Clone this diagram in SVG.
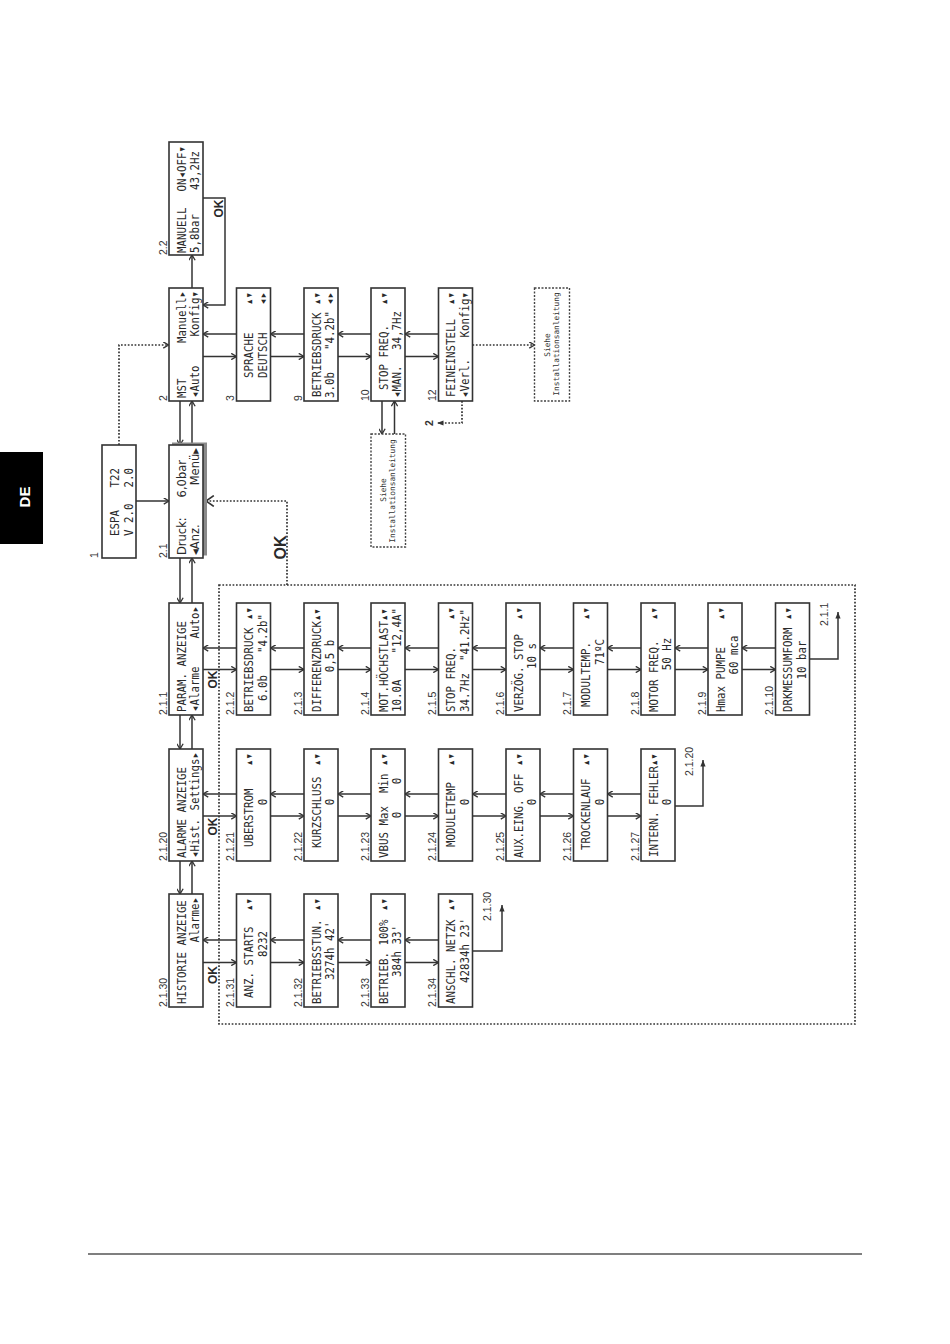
<svg xmlns="http://www.w3.org/2000/svg" width="950" height="1344" viewBox="0 0 950 1344">
<style>
.box{fill:#fff;stroke:#333;stroke-width:1.6}
.sb{fill:#fff;stroke:#444;stroke-width:1.4;stroke-dasharray:2 1.5}
.t{font-family:"DejaVu Sans Mono","Liberation Mono",monospace;font-size:13px;fill:#2a2a2a}
.ts{font-family:"DejaVu Sans","Liberation Sans",sans-serif;font-size:11.5px;fill:#2a2a2a}
.sm{font-family:"DejaVu Sans Mono","Liberation Mono",monospace;font-size:7.8px;fill:#333}
.lb{font-family:"Liberation Sans",Arial,sans-serif;font-size:10.5px;fill:#333}
.ok{font-family:"Liberation Sans",Arial,sans-serif;font-weight:bold;font-size:12px;fill:#2a2a2a;text-anchor:middle}
.e{text-anchor:end}.m{text-anchor:middle}
.c{fill:none;stroke:#333;stroke-width:1.5}
.d{fill:none;stroke:#333;stroke-width:1.7;stroke-dasharray:1.7 1.7}
</style>
<defs>
<marker id="ao" viewBox="0 0 10 10" refX="9.5" refY="5" markerWidth="7" markerHeight="7" orient="auto" markerUnits="userSpaceOnUse"><path d="M2,0.5 L9.5,5 L2,9.5" fill="none" stroke="#333" stroke-width="1.9"/></marker>
<marker id="ab" viewBox="0 0 10 10" refX="9.5" refY="5" markerWidth="12" markerHeight="12" orient="auto" markerUnits="userSpaceOnUse"><path d="M3,0.5 L9.5,5 L3,9.5" fill="none" stroke="#333" stroke-width="1.4"/></marker>
<marker id="af" viewBox="0 0 10 10" refX="10" refY="5" markerWidth="6.5" markerHeight="6.5" orient="auto" markerUnits="userSpaceOnUse"><path d="M0,1 L10,5 L0,9z" fill="#333"/></marker>
</defs>
<rect width="950" height="1344" fill="#fff"/>

<g id="tab">
<rect x="0" y="452" width="43" height="92" fill="#000"/>
<text transform="translate(29.5,497) rotate(-90)" text-anchor="middle" font-family="Liberation Sans,Arial,sans-serif" font-weight="bold" font-size="15" fill="#fff">DE</text>
</g>
<path d="M88,1254 H862" stroke="#555" stroke-width="1.5"/>

<rect id="frame" x="219" y="585" width="636" height="439" class="d"/>

<g id="connectors">
<path class="c" d="M180,401 V445" marker-end="url(#ao)"/>
<path class="c" d="M192,445 V401" marker-end="url(#ao)"/>
<path class="c" d="M180,558 V603" marker-end="url(#ao)"/>
<path class="c" d="M192,603 V558" marker-end="url(#ao)"/>
<path class="c" d="M180,715 V749" marker-end="url(#ao)"/>
<path class="c" d="M192,749 V715" marker-end="url(#ao)"/>
<path class="c" d="M180,861 V894" marker-end="url(#ao)"/>
<path class="c" d="M192,894 V861" marker-end="url(#ao)"/>
<path class="c" d="M192,288 V255" marker-end="url(#ao)"/>
<path class="c" d="M203,198 H225 V305 H203" marker-end="url(#ao)"/>
<path class="c" d="M136,501 H169" marker-end="url(#ao)"/>
<path class="c" d="M236.5,334 H203" marker-end="url(#ao)"/><path class="c" d="M203,356.5 H236.5" marker-end="url(#ao)"/>
<path class="c" d="M304,334 H270.5" marker-end="url(#ao)"/><path class="c" d="M270.5,356.5 H304" marker-end="url(#ao)"/>
<path class="c" d="M371,334 H338" marker-end="url(#ao)"/><path class="c" d="M338,356.5 H371" marker-end="url(#ao)"/>
<path class="c" d="M438.5,334 H405" marker-end="url(#ao)"/><path class="c" d="M405,356.5 H438.5" marker-end="url(#ao)"/>
<path class="c" d="M382,401 V434" marker-end="url(#ao)"/><path class="c" d="M394.5,436 V401" marker-end="url(#ao)"/>
<path class="c" d="M236.5,648 H203" marker-end="url(#ao)"/><path class="c" d="M203,669.5 H236.5" marker-end="url(#ao)"/>
<path class="c" d="M304,648 H270.5" marker-end="url(#ao)"/><path class="c" d="M270.5,669.5 H304" marker-end="url(#ao)"/>
<path class="c" d="M371,648 H338" marker-end="url(#ao)"/><path class="c" d="M338,669.5 H371" marker-end="url(#ao)"/>
<path class="c" d="M438.5,648 H405" marker-end="url(#ao)"/><path class="c" d="M405,669.5 H438.5" marker-end="url(#ao)"/>
<path class="c" d="M506,648 H472.5" marker-end="url(#ao)"/><path class="c" d="M472.5,669.5 H506" marker-end="url(#ao)"/>
<path class="c" d="M573.5,648 H540" marker-end="url(#ao)"/><path class="c" d="M540,669.5 H573.5" marker-end="url(#ao)"/>
<path class="c" d="M641,648 H607.5" marker-end="url(#ao)"/><path class="c" d="M607.5,669.5 H641" marker-end="url(#ao)"/>
<path class="c" d="M708,648 H675" marker-end="url(#ao)"/><path class="c" d="M675,669.5 H708" marker-end="url(#ao)"/>
<path class="c" d="M775.5,648 H742" marker-end="url(#ao)"/><path class="c" d="M742,669.5 H775.5" marker-end="url(#ao)"/>
<path class="c" d="M809.5,659 H838 V612" marker-end="url(#af)"/>
<path class="c" d="M236.5,794 H203" marker-end="url(#ao)"/><path class="c" d="M203,816 H236.5" marker-end="url(#ao)"/>
<path class="c" d="M304,794 H270.5" marker-end="url(#ao)"/><path class="c" d="M270.5,816 H304" marker-end="url(#ao)"/>
<path class="c" d="M371,794 H338" marker-end="url(#ao)"/><path class="c" d="M338,816 H371" marker-end="url(#ao)"/>
<path class="c" d="M438.5,794 H405" marker-end="url(#ao)"/><path class="c" d="M405,816 H438.5" marker-end="url(#ao)"/>
<path class="c" d="M506,794 H472.5" marker-end="url(#ao)"/><path class="c" d="M472.5,816 H506" marker-end="url(#ao)"/>
<path class="c" d="M573.5,794 H540" marker-end="url(#ao)"/><path class="c" d="M540,816 H573.5" marker-end="url(#ao)"/>
<path class="c" d="M641,794 H607.5" marker-end="url(#ao)"/><path class="c" d="M607.5,816 H641" marker-end="url(#ao)"/>
<path class="c" d="M675,806 H703 V760" marker-end="url(#af)"/>
<path class="c" d="M236.5,940 H203" marker-end="url(#ao)"/><path class="c" d="M203,962.5 H236.5" marker-end="url(#ao)"/>
<path class="c" d="M304,940 H270.5" marker-end="url(#ao)"/><path class="c" d="M270.5,962.5 H304" marker-end="url(#ao)"/>
<path class="c" d="M371,940 H338" marker-end="url(#ao)"/><path class="c" d="M338,962.5 H371" marker-end="url(#ao)"/>
<path class="c" d="M438.5,940 H405" marker-end="url(#ao)"/><path class="c" d="M405,962.5 H438.5" marker-end="url(#ao)"/>
<path class="c" d="M472.5,951 H502 V905" marker-end="url(#af)"/>
<path class="d" d="M119,445 V345 H168.5" marker-end="url(#ao)"/>
<path class="d" d="M287,585 V501 H206" marker-end="url(#ab)"/>
<path class="d" d="M472.5,345 H534.5" marker-end="url(#ao)"/>
<path class="d" d="M462,401 V423 H437" marker-end="url(#af)"/>
<text class="ok" transform="translate(223,208.5) rotate(-90)">OK</text>
<text class="ok" transform="translate(216.5,679.5) rotate(-90)">OK</text>
<text class="ok" transform="translate(216.5,826.5) rotate(-90)">OK</text>
<text class="ok" transform="translate(216.5,975) rotate(-90)">OK</text>
<text class="ok" transform="translate(285.5,547.5) rotate(-90)" style="font-size:16px">OK</text>
<text class="lb" transform="translate(827.5,626) rotate(-90)">2.1.1</text>
<text class="lb" transform="translate(692.5,776) rotate(-90)">2.1.20</text>
<text class="lb" transform="translate(490.5,921) rotate(-90)">2.1.30</text>
<text class="lb" transform="translate(432.5,423) rotate(-90)" text-anchor="middle" font-weight="bold">2</text>
</g>

<g id="n1"><rect class="box" x="102" y="445" width="34" height="113"/>
<text class="t" transform="translate(118.5,536) rotate(-90) scale(.83,1)">ESPA</text>
<text class="t e" transform="translate(118.5,468) rotate(-90) scale(.83,1)">T22</text>
<text class="t" transform="translate(132.5,536) rotate(-90) scale(.83,1)">V 2.0</text>
<text class="t e" transform="translate(132.5,468) rotate(-90) scale(.83,1)">2.0</text>
<text class="lb" transform="translate(98,558) rotate(-90)">1</text></g>

<g id="n2-2"><rect class="box" x="169" y="142" width="34" height="113"/>
<text class="t" transform="translate(185.5,253) rotate(-90) scale(.83,1)">MANUELL</text>
<text class="t e" transform="translate(185.5,146) rotate(-90) scale(.83,1)">ON◂OFF▾</text>
<text class="t" transform="translate(199,253) rotate(-90) scale(.83,1)">5,8bar</text>
<text class="t e" transform="translate(199,151) rotate(-90) scale(.83,1)">43,2Hz</text>
<text class="lb" transform="translate(166.5,255) rotate(-90)">2.2</text></g>

<g id="n2"><rect class="box" x="169" y="288" width="34" height="113"/>
<text class="t" transform="translate(185.5,398) rotate(-90) scale(.83,1)">MST</text>
<text class="t e" transform="translate(185.5,291) rotate(-90) scale(.83,1)">Manuell▸</text>
<text class="t" transform="translate(199,398) rotate(-90) scale(.83,1)">◂Auto</text>
<text class="t e" transform="translate(199,291) rotate(-90) scale(.83,1)">Konfig▾</text>
<text class="lb" transform="translate(166.5,401) rotate(-90)">2</text></g>

<g id="n3"><rect class="box" x="236.5" y="288" width="34" height="113"/>
<text class="t" transform="translate(253,378) rotate(-90) scale(.83,1)">SPRACHE</text>
<text class="t e" transform="translate(253,292) rotate(-90) scale(.83,1)">▴▾</text>
<text class="t" transform="translate(266.5,378) rotate(-90) scale(.83,1)">DEUTSCH</text>
<text class="t e" transform="translate(266.5,292) rotate(-90) scale(.83,1)">◂▸</text>
<text class="lb" transform="translate(234,401) rotate(-90)">3</text></g>

<g id="n9"><rect class="box" x="304" y="288" width="34" height="113"/>
<text class="t" transform="translate(320.5,397) rotate(-90) scale(.83,1)">BETRIEBSDRUCK</text>
<text class="t e" transform="translate(320.5,292) rotate(-90) scale(.83,1)">▴▾</text>
<text class="t" transform="translate(334,398) rotate(-90) scale(.83,1)">3.0b</text>
<text class="t e" transform="translate(334,311) rotate(-90) scale(.83,1)">"4.2b"</text>
<text class="t e" transform="translate(334,292) rotate(-90) scale(.83,1)">◂▸</text>
<text class="lb" transform="translate(301.5,401) rotate(-90)">9</text></g>

<g id="n10"><rect class="box" x="371" y="288" width="34" height="113"/>
<text class="t" transform="translate(387.5,390) rotate(-90) scale(.83,1)">STOP FREQ.</text>
<text class="t e" transform="translate(387.5,292) rotate(-90) scale(.83,1)">▴▾</text>
<text class="t" transform="translate(401,398) rotate(-90) scale(.83,1)">◂MAN.</text>
<text class="t e" transform="translate(401,311) rotate(-90) scale(.83,1)">34,7Hz</text>
<text class="lb" transform="translate(368.5,401) rotate(-90)">10</text></g>

<g id="n12"><rect class="box" x="438.5" y="288" width="34" height="113"/>
<text class="t" transform="translate(455,397) rotate(-90) scale(.83,1)">FEINEINSTELL</text>
<text class="t e" transform="translate(455,292) rotate(-90) scale(.83,1)">▴▾</text>
<text class="t" transform="translate(468.5,398) rotate(-90) scale(.83,1)">◂Verl.</text>
<text class="t e" transform="translate(468.5,292) rotate(-90) scale(.83,1)">Konfig▾</text>
<text class="lb" transform="translate(436,401) rotate(-90)">12</text></g>

<g id="siehe1"><rect class="sb" x="371" y="434" width="34.5" height="113"/>
<text class="sm m" transform="translate(386,490) rotate(-90)">Siehe</text>
<text class="sm m" transform="translate(394.5,491) rotate(-90)">Installationsanleitung</text></g>

<g id="siehe2"><rect class="sb" x="534.5" y="288" width="35" height="113"/>
<text class="sm m" transform="translate(550,345) rotate(-90)">Siehe</text>
<text class="sm m" transform="translate(559,344) rotate(-90)">Installationsanleitung</text></g>

<g id="n2-1"><rect x="172" y="442.5" width="35" height="113" fill="#8a8a8a"/>
<rect class="box" x="169" y="445" width="34" height="113"/>
<text class="ts" transform="translate(185.5,555) rotate(-90)">Druck:</text>
<text class="ts e" transform="translate(185.5,460) rotate(-90)">6,0bar</text>
<text class="ts" transform="translate(199,555) rotate(-90)">◂Anz.</text>
<text class="ts e" transform="translate(199,448) rotate(-90)">Menü▸</text>
<text class="lb" transform="translate(166.5,558) rotate(-90)">2.1</text></g>

<g id="n2-1-1"><rect class="box" x="169" y="603" width="34" height="112"/>
<text class="t" transform="translate(185.5,712) rotate(-90) scale(.83,1)">PARAM. ANZEIGE</text>
<text class="t" transform="translate(199,712) rotate(-90) scale(.83,1)">◂Alarme</text>
<text class="t e" transform="translate(199,606) rotate(-90) scale(.83,1)">Auto▸</text>
<text class="lb" transform="translate(166.5,715) rotate(-90)">2.1.1</text></g>

<g id="n2-1-20"><rect class="box" x="169" y="749" width="34" height="112"/>
<text class="t" transform="translate(185.5,858) rotate(-90) scale(.83,1)">ALARME ANZEIGE</text>
<text class="t" transform="translate(199,858) rotate(-90) scale(.83,1)">◂Hist.</text>
<text class="t e" transform="translate(199,752) rotate(-90) scale(.83,1)">Settings▸</text>
<text class="lb" transform="translate(166.5,861) rotate(-90)">2.1.20</text></g>

<g id="n2-1-30"><rect class="box" x="169" y="894" width="34" height="113"/>
<text class="t" transform="translate(185.5,1004) rotate(-90) scale(.83,1)">HISTORIE ANZEIGE</text>
<text class="t e" transform="translate(199,897) rotate(-90) scale(.83,1)">Alarme▸</text>
<text class="lb" transform="translate(166.5,1007) rotate(-90)">2.1.30</text></g>

<g id="n2-1-2"><rect class="box" x="236.5" y="603" width="34" height="112"/>
<text class="t" transform="translate(253,712) rotate(-90) scale(.83,1)">BETRIEBSDRUCK</text>
<text class="t e" transform="translate(253,607) rotate(-90) scale(.83,1)">▴▾</text>
<text class="t" transform="translate(266.5,701) rotate(-90) scale(.83,1)">6.0b</text>
<text class="t e" transform="translate(266.5,614) rotate(-90) scale(.83,1)">"4.2b"</text>
<text class="lb" transform="translate(234,715) rotate(-90)">2.1.2</text></g>

<g id="n2-1-3"><rect class="box" x="304" y="603" width="34" height="112"/>
<text class="t" transform="translate(320.5,712) rotate(-90) scale(.83,1)">DIFFERENZDRUCK▴▾</text>
<text class="t m" transform="translate(334,656) rotate(-90) scale(.83,1)">0,5 b</text>
<text class="lb" transform="translate(301.5,715) rotate(-90)">2.1.3</text></g>

<g id="n2-1-4"><rect class="box" x="371" y="603" width="34" height="112"/>
<text class="t" transform="translate(387.5,712) rotate(-90) scale(.83,1)">MOT.HÖCHSTLAST▴▾</text>
<text class="t" transform="translate(401,712) rotate(-90) scale(.83,1)">10.0A</text>
<text class="t e" transform="translate(401,608) rotate(-90) scale(.83,1)">"12,4A"</text>
<text class="lb" transform="translate(368.5,715) rotate(-90)">2.1.4</text></g>

<g id="n2-1-5"><rect class="box" x="438.5" y="603" width="34" height="112"/>
<text class="t" transform="translate(455,712) rotate(-90) scale(.83,1)">STOP FREQ.</text>
<text class="t e" transform="translate(455,607) rotate(-90) scale(.83,1)">▴▾</text>
<text class="t" transform="translate(468.5,712) rotate(-90) scale(.83,1)">34.7Hz</text>
<text class="t e" transform="translate(468.5,609) rotate(-90) scale(.83,1)">"41.2Hz"</text>
<text class="lb" transform="translate(436,715) rotate(-90)">2.1.5</text></g>

<g id="n2-1-6"><rect class="box" x="506" y="603" width="34" height="112"/>
<text class="t" transform="translate(522.5,712) rotate(-90) scale(.83,1)">VERZÖG. STOP</text>
<text class="t e" transform="translate(522.5,607) rotate(-90) scale(.83,1)">▴▾</text>
<text class="t m" transform="translate(536,656) rotate(-90) scale(.83,1)">10 s</text>
<text class="lb" transform="translate(503.5,715) rotate(-90)">2.1.6</text></g>

<g id="n2-1-7"><rect class="box" x="573.5" y="603" width="34" height="112"/>
<text class="t" transform="translate(590,707) rotate(-90) scale(.83,1)">MODULTEMP.</text>
<text class="t e" transform="translate(590,607) rotate(-90) scale(.83,1)">▴▾</text>
<text class="t m" transform="translate(603.5,652) rotate(-90) scale(.83,1)">71ºC</text>
<text class="lb" transform="translate(571,715) rotate(-90)">2.1.7</text></g>

<g id="n2-1-8"><rect class="box" x="641" y="603" width="34" height="112"/>
<text class="t" transform="translate(657.5,712) rotate(-90) scale(.83,1)">MOTOR FREQ.</text>
<text class="t e" transform="translate(657.5,607) rotate(-90) scale(.83,1)">▴▾</text>
<text class="t m" transform="translate(671,654) rotate(-90) scale(.83,1)">50 Hz</text>
<text class="lb" transform="translate(638.5,715) rotate(-90)">2.1.8</text></g>

<g id="n2-1-9"><rect class="box" x="708" y="603" width="34" height="112"/>
<text class="t" transform="translate(724.5,712) rotate(-90) scale(.83,1)">Hmax PUMPE</text>
<text class="t e" transform="translate(724.5,607) rotate(-90) scale(.83,1)">▴▾</text>
<text class="t m" transform="translate(738,655) rotate(-90) scale(.83,1)">60 mca</text>
<text class="lb" transform="translate(705.5,715) rotate(-90)">2.1.9</text></g>

<g id="n2-1-10"><rect class="box" x="775.5" y="603" width="34" height="112"/>
<text class="t" transform="translate(792,712) rotate(-90) scale(.83,1)">DRKMESSUMFORM</text>
<text class="t e" transform="translate(792,607) rotate(-90) scale(.83,1)">▴▾</text>
<text class="t m" transform="translate(805.5,660) rotate(-90) scale(.83,1)">10 bar</text>
<text class="lb" transform="translate(773,715) rotate(-90)">2.1.10</text></g>

<g id="n2-1-21"><rect class="box" x="236.5" y="749" width="34" height="112"/>
<text class="t" transform="translate(253,847) rotate(-90) scale(.83,1)">UBERSTROM</text>
<text class="t e" transform="translate(253,753) rotate(-90) scale(.83,1)">▴▾</text>
<text class="t m" transform="translate(266.5,802) rotate(-90) scale(.83,1)">0</text>
<text class="lb" transform="translate(234,861) rotate(-90)">2.1.21</text></g>

<g id="n2-1-22"><rect class="box" x="304" y="749" width="34" height="112"/>
<text class="t" transform="translate(320.5,848) rotate(-90) scale(.83,1)">KURZSCHLUSS</text>
<text class="t e" transform="translate(320.5,753) rotate(-90) scale(.83,1)">▴▾</text>
<text class="t m" transform="translate(334,802) rotate(-90) scale(.83,1)">0</text>
<text class="lb" transform="translate(301.5,861) rotate(-90)">2.1.22</text></g>

<g id="n2-1-23"><rect class="box" x="371" y="749" width="34" height="112"/>
<text class="t" transform="translate(387.5,858) rotate(-90) scale(.83,1)" xml:space="preserve">VBUS Max  Min</text>
<text class="t e" transform="translate(387.5,753) rotate(-90) scale(.83,1)">▴▾</text>
<text class="t m" transform="translate(401,815) rotate(-90) scale(.83,1)">0</text>
<text class="t m" transform="translate(401,781) rotate(-90) scale(.83,1)">0</text>
<text class="lb" transform="translate(368.5,861) rotate(-90)">2.1.23</text></g>

<g id="n2-1-24"><rect class="box" x="438.5" y="749" width="34" height="112"/>
<text class="t" transform="translate(455,847) rotate(-90) scale(.83,1)">MODULETEMP</text>
<text class="t e" transform="translate(455,753) rotate(-90) scale(.83,1)">▴▾</text>
<text class="t m" transform="translate(468.5,802) rotate(-90) scale(.83,1)">0</text>
<text class="lb" transform="translate(436,861) rotate(-90)">2.1.24</text></g>

<g id="n2-1-25"><rect class="box" x="506" y="749" width="34" height="112"/>
<text class="t" transform="translate(522.5,858) rotate(-90) scale(.83,1)">AUX.EING. OFF</text>
<text class="t e" transform="translate(522.5,753) rotate(-90) scale(.83,1)">▴▾</text>
<text class="t m" transform="translate(536,802) rotate(-90) scale(.83,1)">0</text>
<text class="lb" transform="translate(503.5,861) rotate(-90)">2.1.25</text></g>

<g id="n2-1-26"><rect class="box" x="573.5" y="749" width="34" height="112"/>
<text class="t" transform="translate(590,850) rotate(-90) scale(.83,1)">TROCKENLAUF</text>
<text class="t e" transform="translate(590,753) rotate(-90) scale(.83,1)">▴▾</text>
<text class="t m" transform="translate(603.5,802) rotate(-90) scale(.83,1)">0</text>
<text class="lb" transform="translate(571,861) rotate(-90)">2.1.26</text></g>

<g id="n2-1-27"><rect class="box" x="641" y="749" width="34" height="112"/>
<text class="t" transform="translate(657.5,857) rotate(-90) scale(.83,1)">INTERN. FEHLER▴▾</text>
<text class="t m" transform="translate(671,802) rotate(-90) scale(.83,1)">0</text>
<text class="lb" transform="translate(638.5,861) rotate(-90)">2.1.27</text></g>

<g id="n2-1-31"><rect class="box" x="236.5" y="894" width="34" height="113"/>
<text class="t" transform="translate(253,998) rotate(-90) scale(.83,1)">ANZ. STARTS</text>
<text class="t e" transform="translate(253,898) rotate(-90) scale(.83,1)">▴▾</text>
<text class="t m" transform="translate(266.5,944) rotate(-90) scale(.83,1)">8232</text>
<text class="lb" transform="translate(234,1007) rotate(-90)">2.1.31</text></g>

<g id="n2-1-32"><rect class="box" x="304" y="894" width="34" height="113"/>
<text class="t" transform="translate(320.5,1004) rotate(-90) scale(.83,1)">BETRIEBSSTUN.</text>
<text class="t e" transform="translate(320.5,898) rotate(-90) scale(.83,1)">▴▾</text>
<text class="t" transform="translate(334,980) rotate(-90) scale(.83,1)">3274h 42'</text>
<text class="lb" transform="translate(301.5,1007) rotate(-90)">2.1.32</text></g>

<g id="n2-1-33"><rect class="box" x="371" y="894" width="34" height="113"/>
<text class="t" transform="translate(387.5,1004) rotate(-90) scale(.83,1)">BETRIEB. 100%</text>
<text class="t e" transform="translate(387.5,898) rotate(-90) scale(.83,1)">▴▾</text>
<text class="t" transform="translate(401,977) rotate(-90) scale(.83,1)">384h 33'</text>
<text class="lb" transform="translate(368.5,1007) rotate(-90)">2.1.33</text></g>

<g id="n2-1-34"><rect class="box" x="438.5" y="894" width="34" height="113"/>
<text class="t" transform="translate(455,1004) rotate(-90) scale(.83,1)">ANSCHL. NETZK</text>
<text class="t e" transform="translate(455,898) rotate(-90) scale(.83,1)">▴▾</text>
<text class="t" transform="translate(468.5,983) rotate(-90) scale(.83,1)">42834h 23'</text>
<text class="lb" transform="translate(436,1007) rotate(-90)">2.1.34</text></g>
</svg>
